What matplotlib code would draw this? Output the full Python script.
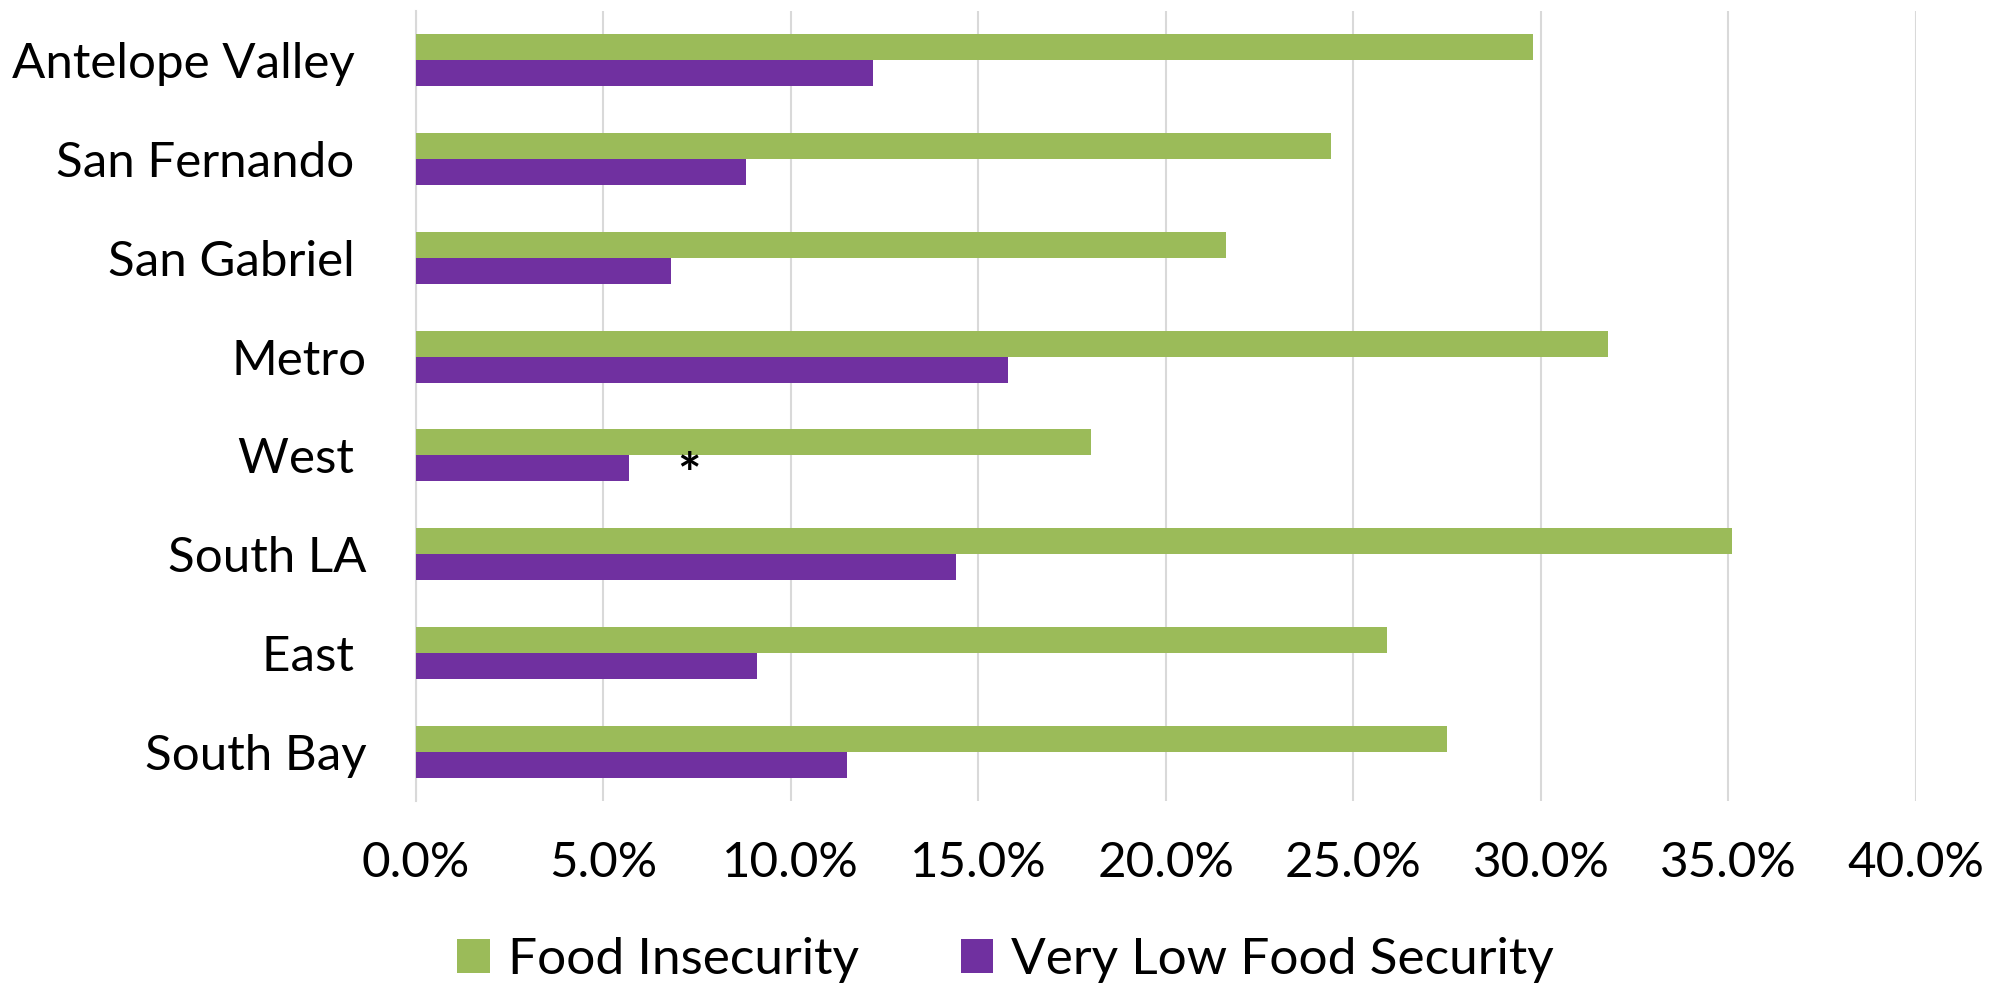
import matplotlib
matplotlib.use("Agg")
import matplotlib.pyplot as plt
from matplotlib.patches import Patch
import numpy as np

categories = ["Antelope Valley ", "San Fernando ", "San Gabriel ", "Metro", "West ", "South LA", "East ", "South Bay"]
food_insecurity = [29.8, 24.4, 21.6, 31.8, 18.0, 35.1, 25.9, 27.5]
very_low = [12.2, 8.8, 6.8, 15.8, 5.7, 14.4, 9.1, 11.5]
xticks = [0, 5, 10, 15, 20, 25, 30, 35, 40]
xtick_labels = ["0.0%", "5.0%", "10.0%", "15.0%", "20.0%", "25.0%", "30.0%", "35.0%", "40.0%"]
series_names = ["Food Insecurity", "Very Low Food Security"]

GREEN = "#9BBB59"
PURPLE = "#7030A0"
FONT = "Lato"
FS = 35.5
LFS = 37

fig = plt.figure(figsize=(20.03, 9.86), dpi=100)
ax = fig.add_axes([415.5/2003, 1-801/986, (1916-415.5)/2003, 790/986])

y = np.arange(len(categories))
h = 0.263
ax.barh(y - h/2, food_insecurity, height=h, color=GREEN, zorder=3)
ax.barh(y + h/2, very_low, height=h, color=PURPLE, zorder=3)

# asterisk annotation next to West's very low bar
wi = 4
ax.text(very_low[wi] + 1.6, wi + h/2 + 0.09, "*", ha="center", va="center",
        fontsize=40, fontweight="bold", family=FONT, color="black")

ax.set_xlim(0, 40)
ax.set_ylim(len(categories) - 0.5, -0.5)
ax.set_xticks(xticks)
ax.set_xticklabels(xtick_labels, fontsize=FS, family=FONT)
ax.set_yticks(y)
ax.set_yticklabels(categories, fontsize=FS, family=FONT)
ax.tick_params(axis="both", length=0)
ax.tick_params(axis="x", pad=29)
ax.tick_params(axis="y", pad=35)
ax.grid(axis="x", color="#D9D9D9", linewidth=1.5, zorder=0)
for s in ["top", "right", "bottom"]:
    ax.spines[s].set_visible(False)
ax.spines["left"].set_color("#D9D9D9")
ax.spines["left"].set_linewidth(1.5)

handles = [Patch(facecolor=GREEN), Patch(facecolor=PURPLE)]
fig.legend(handles, series_names, loc="center", bbox_to_anchor=(0.502, 0.026),
           ncol=2, frameon=False, prop={"family": FONT, "size": LFS},
           handlelength=0.64, handleheight=0.64, handletextpad=0.35, columnspacing=1.98)

fig.savefig("out.png", dpi=100, facecolor="white")
